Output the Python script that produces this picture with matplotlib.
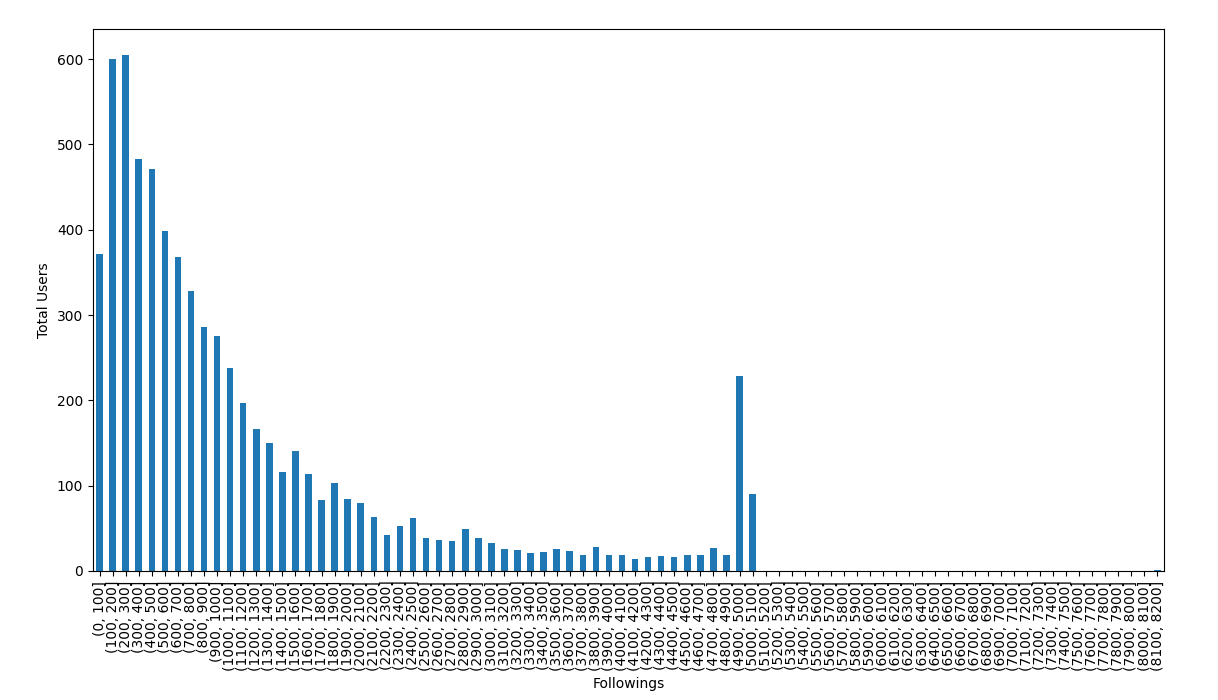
import matplotlib
matplotlib.use("Agg")
import matplotlib.pyplot as plt
import numpy as np

bin_edges = list(range(0, 8300, 100))
labels = [f"({bin_edges[i]}, {bin_edges[i+1]}]" for i in range(len(bin_edges) - 1)]

values = [371, 600, 605, 483, 471, 399, 368, 328, 286, 275,
          238, 197, 166, 150, 116, 141, 114, 83, 103, 84,
          80, 63, 42, 53, 62, 39, 36, 35, 49, 39,
          33, 26, 25, 21, 22, 26, 23, 19, 28, 19,
          19, 14, 16, 18, 16, 19, 19, 27, 19, 228,
          90] + [0] * 30 + [1]

fig = plt.figure(figsize=(12.18, 7), dpi=100)
ax = fig.add_axes([93/1218, 1-571/700, (1164-93)/1218, (571-29)/700])
x = np.arange(len(labels))
ax.bar(x, values, width=0.5, color="#1f77b4")
ax.set_xlim(-0.5, len(labels) - 0.5)
ax.set_ylim(0, max(values) * 1.05)
ax.set_xticks(x)
ax.set_xticklabels(labels, rotation=90)
ax.set_xlabel("Followings")
ax.set_ylabel("Total Users")
fig.savefig("out.png", dpi=100)
